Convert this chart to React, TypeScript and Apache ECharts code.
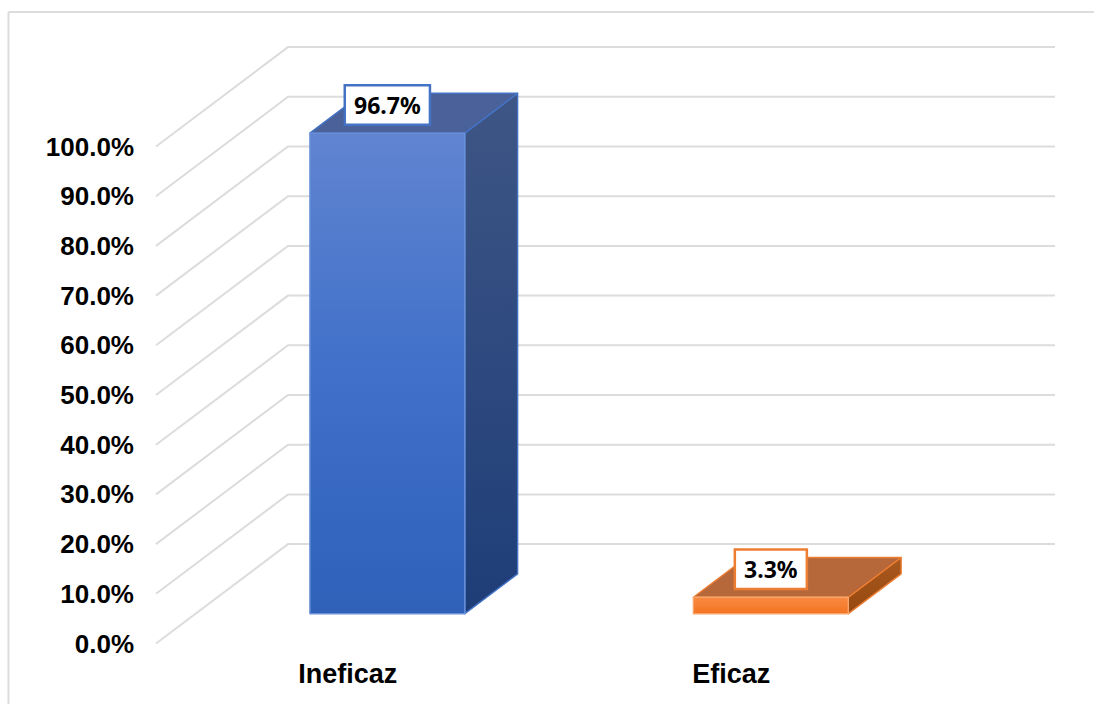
import React, { useEffect, useRef } from "react";
import * as echarts from "echarts";

const categories = ["Ineficaz", "Eficaz"];
const values = [96.7, 3.3];
const valueLabels = ["96.7%", "3.3%"];
const ticks = [0, 10, 20, 30, 40, 50, 60, 70, 80, 90, 100];

const DEPTH_X = 132;
const DEPTH_Y = -99.4;
const BAR_NEAR = 0.3;
const BAR_FAR = 0.7;
const BAR_WIDTH_RATIO = 0.404;

const grad = (stops: [number, string][]) =>
  new echarts.graphic.LinearGradient(0, 0, 0, 1, stops.map(([offset, color]) => ({ offset, color })));

const palettes = [
  {
    front: grad([[0, "#6084D0"], [0.5, "#4070C9"], [1, "#2F61B9"]]),
    side: grad([[0, "#3E5685"], [1, "#1E3D78"]]),
    top: "#4A6299",
    edge: "#4472C4",
    frontEdge: "#6A92DA",
  },
  {
    front: grad([[0, "#F98A42"], [1, "#F37421"]]),
    side: grad([[0, "#A9591F"], [1, "#95480F"]]),
    top: "#B6683B",
    edge: "#ED7D31",
    frontEdge: "#F6A56C",
  },
];

function renderWall(params: any, api: any) {
  const v = api.value(1);
  const cs = params.coordSys;
  const y = api.coord([0, v])[1];
  return {
    type: "polyline",
    shape: {
      points: [
        [cs.x, y],
        [cs.x + DEPTH_X, y + DEPTH_Y],
        [cs.x + cs.width + DEPTH_X, y + DEPTH_Y],
      ],
    },
    style: { fill: "none", stroke: "#DCDCDC", lineWidth: 2 },
  };
}

function renderBar(params: any, api: any) {
  const i = params.dataIndex;
  const p = palettes[i];
  const top = api.coord([api.value(0), api.value(1)]);
  const base = api.coord([api.value(0), 0]);
  const w = api.size([1, 0])[0] * BAR_WIDTH_RATIO;
  const nx = DEPTH_X * BAR_NEAR;
  const ny = DEPTH_Y * BAR_NEAR;
  const dx = DEPTH_X * (BAR_FAR - BAR_NEAR);
  const dy = DEPTH_Y * (BAR_FAR - BAR_NEAR);
  const l = top[0] - w / 2 + nx;
  const r = l + w;
  const t = top[1] + ny;
  const b = base[1] + ny;
  const poly = (points: number[][], fill: any, stroke: string) => ({
    type: "polygon",
    shape: { points },
    style: { fill, stroke, lineWidth: 1.4, lineJoin: "round" },
  });
  return {
    type: "group",
    children: [
      poly([[r, t], [r + dx, t + dy], [r + dx, b + dy], [r, b]], p.side, p.edge),
      poly([[l, t], [l + dx, t + dy], [r + dx, t + dy], [r, t]], p.top, p.edge),
      poly([[l, t], [r, t], [r, b], [l, b]], p.front, p.frontEdge),
      {
        type: "text",
        x: (l + r) / 2,
        y: t - 28,
        style: {
          text: valueLabels[i],
          fill: "#000000",
          font: "bold 23px 'Noto Sans', sans-serif",
          align: "center",
          verticalAlign: "middle",
          backgroundColor: "#FFFFFF",
          borderColor: p.edge,
          borderWidth: 2.5,
          padding: [7, 8, 7, 8],
        },
      },
    ],
  };
}

export default function App() {
  const ref = useRef<HTMLDivElement>(null);
  useEffect(() => {
    document.body.style.margin = "0";
    const chart = echarts.init(ref.current!, undefined, { renderer: "svg" });
    chart.setOption({
      animation: false,
      backgroundColor: "#FFFFFF",
      grid: { left: 156, top: 146.5, width: 767, height: 497, containLabel: false },
      xAxis: {
        type: "category",
        data: categories,
        axisLine: { show: false },
        axisTick: { show: false },
        splitLine: { show: false },
        axisLabel: {
          color: "#000000",
          fontFamily: "'Liberation Sans', Arial, sans-serif",
          fontWeight: "bold",
          fontSize: 27,
          margin: 17,
        },
      },
      yAxis: {
        type: "value",
        min: 0,
        max: 100,
        interval: 10,
        axisLine: { show: false },
        axisTick: { show: false },
        splitLine: { show: false },
        axisLabel: {
          color: "#000000",
          fontFamily: "'Liberation Sans', Arial, sans-serif",
          fontWeight: "bold",
          fontSize: 26,
          margin: 22,
          formatter: (v: number) => v.toFixed(1) + "%",
        },
      },
      graphic: [
        { type: "line", shape: { x1: 8.5, y1: 12, x2: 1094, y2: 12 }, style: { stroke: "#DCDCDC", lineWidth: 2 } },
        { type: "line", shape: { x1: 8.5, y1: 12, x2: 8.5, y2: 704 }, style: { stroke: "#DCDCDC", lineWidth: 2 } },
      ],
      series: [
        {
          type: "custom",
          renderItem: renderWall,
          clip: false,
          silent: true,
          data: ticks.map((t) => [0, t]),
          z: 1,
        },
        {
          type: "custom",
          renderItem: renderBar,
          clip: false,
          silent: true,
          data: values.map((v, i) => [i, v]),
          z: 2,
        },
      ],
    });
    return () => chart.dispose();
  }, []);
  return <div ref={ref} style={{ width: 1094, height: 704 }} />;
}
